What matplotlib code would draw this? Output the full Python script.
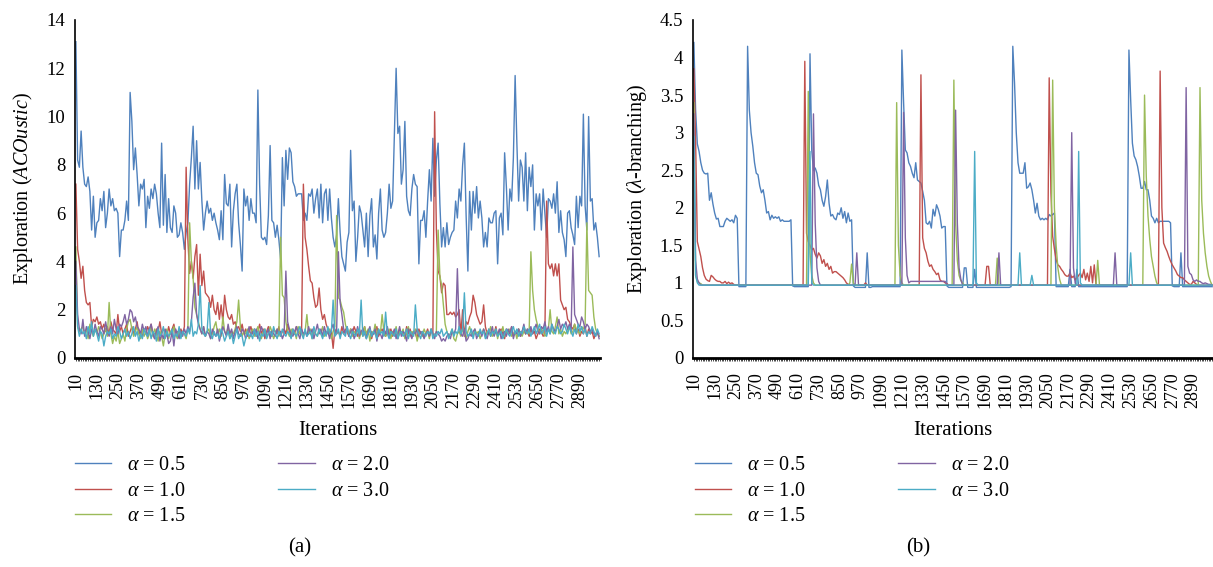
import matplotlib
matplotlib.use("Agg")
import matplotlib.pyplot as plt
from matplotlib.ticker import FuncFormatter
import numpy as np

plt.rcParams["font.family"] = "Liberation Serif"
plt.rcParams["mathtext.fontset"] = "custom"
plt.rcParams["mathtext.rm"] = "Liberation Serif"
plt.rcParams["mathtext.it"] = "Liberation Serif:italic"

# categories: iteration number, one point every 10 iterations
iterations = np.arange(10, 3010, 10)
series_labels = [r"$\alpha$ = 0.5", r"$\alpha$ = 1.0", r"$\alpha$ = 1.5",
                 r"$\alpha$ = 2.0", r"$\alpha$ = 3.0"]
colors = ["#4F81BD", "#C0504D", "#9BBB59", "#8064A2", "#4BACC6"]

# ---- panel (a): ACOustic ----
a_05 = [
    13.1, 8.2, 7.9, 9.4, 7.9, 7.2, 7.1, 7.5, 6.9, 5.3, 6.7, 5.0, 5.6, 5.7, 6.6, 6.1, 6.9, 5.4, 6.0, 7.0,
    6.3, 6.6, 6.1, 6.2, 6.0, 4.2, 5.3, 5.3, 5.7, 6.5, 5.7, 11.0, 9.8, 7.8, 8.7, 7.6, 6.3, 7.2, 7.0, 7.4,
    5.4, 6.7, 6.2, 7.0, 6.6, 7.2, 6.8, 6.0, 5.4, 8.9, 5.5, 7.6, 5.2, 6.6, 5.4, 5.2, 6.3, 6.0, 5.0, 5.1,
    5.6, 5.2, 4.5, 5.2, 5.6, 7.2, 8.3, 9.6, 7.0, 9.0, 7.0, 8.1, 6.5, 5.3, 6.0, 6.5, 6.0, 6.2, 5.7, 6.0,
    5.6, 5.3, 4.9, 6.1, 4.9, 7.6, 6.4, 6.3, 7.2, 4.6, 6.1, 6.8, 7.2, 5.6, 4.7, 3.6, 7.0, 6.3, 6.7, 5.7,
    6.6, 6.0, 6.0, 5.6, 11.1, 7.2, 5.0, 4.9, 5.0, 4.7, 5.9, 8.8, 5.7, 5.6, 5.0, 5.5, 4.9, 4.1, 8.3, 6.3,
    8.6, 7.4, 8.7, 8.5, 7.3, 7.1, 6.7, 6.8, 6.8, 6.8, 5.7, 6.0, 5.7, 6.8, 6.7, 7.0, 6.0, 6.6, 7.0, 5.8,
    7.2, 5.6, 6.8, 7.0, 5.7, 7.0, 5.8, 5.0, 4.6, 5.1, 6.6, 5.2, 4.2, 3.9, 3.6, 4.8, 5.2, 8.6, 6.1, 6.5,
    4.0, 5.0, 6.3, 6.0, 5.3, 4.6, 6.0, 4.2, 5.9, 6.6, 4.6, 5.1, 4.1, 6.0, 7.0, 5.3, 5.0, 5.2, 6.0, 7.2,
    6.2, 6.5, 9.3, 12.0, 9.3, 9.6, 7.2, 7.8, 9.8, 6.7, 6.1, 5.9, 7.0, 7.6, 7.2, 7.1, 3.9, 5.7, 5.7, 6.1,
    5.0, 6.5, 7.8, 6.5, 9.1, 6.7, 8.2, 8.9, 6.4, 4.6, 5.4, 4.6, 5.6, 4.7, 5.0, 5.2, 5.3, 6.5, 5.8, 7.0,
    6.5, 8.0, 8.9, 5.9, 3.6, 6.9, 5.3, 6.9, 6.0, 7.1, 5.8, 6.5, 5.8, 4.6, 5.2, 4.6, 5.8, 5.6, 5.6, 6.0,
    6.1, 3.9, 5.8, 6.0, 5.1, 8.5, 7.1, 5.3, 7.0, 6.5, 8.3, 11.7, 8.9, 6.5, 8.2, 7.9, 6.5, 8.5, 6.1, 7.9,
    7.1, 8.0, 5.3, 6.8, 6.3, 6.8, 5.3, 7.0, 6.0, 5.0, 6.6, 6.5, 6.2, 6.8, 6.0, 7.3, 5.2, 6.1, 5.2, 4.9,
    4.2, 6.0, 6.1, 5.4, 5.1, 4.7, 6.7, 5.4, 6.7, 6.3, 10.1, 6.3, 5.3, 10.0, 6.5, 6.6, 5.3, 5.6, 5.0, 4.2,
]
a_10 = [
    7.2, 4.5, 4.0, 3.3, 3.8, 2.8, 2.3, 2.2, 2.3, 1.3, 1.6, 1.5, 1.7, 1.4, 1.5, 1.2, 1.4, 1.1, 1.3, 1.0,
    1.5, 1.2, 1.1, 1.0, 1.8, 1.1, 1.3, 1.0, 1.2, 1.4, 0.9, 1.1, 1.3, 1.0, 1.2, 1.5, 1.0, 1.1, 0.9, 1.2,
    1.0, 1.3, 1.1, 1.4, 1.0, 0.8, 1.2, 1.1, 1.5, 1.0, 1.2, 1.1, 0.9, 1.3, 1.0, 1.2, 1.4, 1.0, 1.1, 0.9,
    1.2, 1.0, 1.3, 7.9, 4.9, 3.5, 4.0, 3.3, 4.2, 4.7, 2.6, 4.3, 3.0, 3.6, 2.7, 2.6, 2.5, 2.1, 2.6, 2.0,
    1.8, 2.3, 1.6, 2.2, 1.5, 2.6, 2.0, 1.7, 1.6, 1.8, 1.4, 1.5, 1.2, 1.3, 1.1, 1.4, 1.0, 1.2, 0.9, 1.1,
    1.3, 1.0, 1.2, 0.9, 1.1, 1.4, 1.0, 1.2, 0.8, 1.1, 1.3, 1.0, 0.9, 1.2, 1.1, 1.0, 1.3, 0.9, 1.1, 1.2,
    1.0, 1.4, 1.1, 0.9, 1.2, 1.0, 1.3, 1.1, 1.0, 1.2, 7.2, 5.0, 4.5, 3.8, 3.2, 3.1, 2.5, 2.1, 2.2, 2.9,
    2.0, 1.6, 1.8, 1.4, 1.2, 1.0, 1.1, 0.4, 1.2, 1.0, 1.1, 0.9, 1.3, 1.0, 1.2, 1.1, 0.9, 1.2, 1.0, 1.3,
    1.1, 0.9, 1.2, 1.0, 1.1, 1.3, 0.9, 1.0, 1.2, 0.8, 1.1, 1.0, 1.3, 0.9, 1.1, 1.2, 1.0, 0.9, 1.1, 1.0,
    1.2, 0.9, 1.1, 1.0, 0.8, 1.2, 1.0, 1.1, 0.9, 1.3, 1.0, 1.2, 0.9, 1.1, 1.0, 0.8, 1.2, 1.0, 1.1, 0.9,
    1.0, 1.2, 0.9, 1.1, 1.0, 10.2, 5.3, 3.6, 3.4, 2.7, 3.1, 3.0, 1.8, 1.8, 1.9, 1.8, 1.9, 1.7, 1.8, 2.0,
    1.0, 2.0, 0.9, 1.5, 1.4, 1.7, 1.9, 2.6, 2.3, 1.8, 1.6, 1.4, 1.5, 2.2, 1.3, 1.0, 1.2, 0.9, 1.1, 1.0,
    1.3, 0.9, 1.1, 1.2, 1.0, 0.8, 1.2, 1.1, 1.0, 1.3, 0.9, 1.1, 1.0, 1.2, 0.9, 1.1, 1.3, 1.0, 1.1, 0.9,
    1.2, 1.0, 1.1, 0.8, 1.0, 1.2, 1.1, 0.9, 1.0, 6.5, 3.9, 3.7, 3.9, 3.4, 3.9, 3.4, 3.9, 2.4, 2.2, 2.0,
    2.1, 1.6, 1.5, 1.3, 1.2, 1.4, 1.0, 1.2, 0.9, 1.1, 1.0, 1.3, 0.9, 1.2, 1.0, 1.1, 0.8, 1.0, 1.1, 0.9,
]
a_15 = [
    4.6, 1.3, 1.1, 1.2, 1.3, 1.0, 1.2, 0.8, 1.4, 1.1, 0.9, 1.2, 1.0, 1.3, 1.1, 0.8, 1.0, 1.2, 0.9, 2.3,
    1.0, 0.6, 0.9, 0.7, 1.1, 0.6, 0.8, 1.0, 0.7, 1.2, 1.5, 1.6, 1.2, 0.9, 1.1, 1.3, 1.0, 0.8, 1.2, 0.9,
    1.1, 0.8, 1.0, 1.3, 0.9, 1.2, 1.0, 0.7, 1.1, 0.9, 0.5, 1.0, 1.2, 0.8, 1.1, 0.9, 1.3, 1.0, 0.8, 1.2,
    0.9, 1.1, 1.0, 0.8, 1.2, 5.6, 4.0, 3.3, 2.1, 1.8, 1.5, 1.2, 1.0, 1.3, 0.9, 1.1, 1.2, 0.8, 1.0, 1.3,
    1.5, 1.0, 1.2, 0.9, 1.7, 1.1, 1.0, 1.3, 0.8, 1.1, 1.0, 1.2, 1.5, 2.4, 1.3, 0.9, 1.1, 1.0, 1.2, 0.8,
    1.0, 1.2, 0.9, 1.1, 1.3, 1.0, 0.8, 1.1, 1.2, 0.9, 1.0, 1.3, 1.1, 0.8, 1.0, 1.2, 0.9, 5.0, 2.6, 2.5,
    1.5, 1.1, 0.9, 1.2, 1.0, 1.1, 0.8, 1.3, 1.0, 1.2, 0.9, 1.1, 1.8, 1.0, 1.2, 0.8, 1.1, 1.0, 0.9, 1.2,
    1.0, 1.3, 0.9, 1.1, 1.0, 1.2, 0.8, 1.1, 1.3, 5.9, 2.5, 2.4, 2.1, 1.9, 1.4, 1.1, 1.0, 1.2, 0.9, 1.1,
    1.0, 1.2, 0.8, 1.1, 0.9, 1.3, 1.0, 1.2, 0.7, 1.1, 1.0, 1.4, 0.9, 1.2, 1.0, 1.8, 1.1, 0.9, 1.0, 1.2,
    0.8, 1.1, 1.0, 1.3, 0.9, 1.1, 1.0, 1.2, 0.8, 1.0, 1.3, 0.9, 1.1, 1.0, 1.2, 0.7, 1.0, 1.1, 0.9, 1.2,
    1.0, 1.1, 0.8, 1.2, 1.0, 0.9, 1.1, 5.3, 3.4, 3.0, 2.2, 1.4, 1.1, 0.9, 1.0, 1.2, 0.8, 0.7, 1.0, 1.1,
    0.9, 1.2, 1.0, 0.8, 1.1, 1.3, 1.0, 0.9, 1.2, 1.0, 1.1, 0.8, 1.0, 1.2, 0.9, 1.1, 1.0, 1.3, 0.9, 1.0,
    1.2, 0.8, 1.1, 1.0, 1.3, 0.9, 1.1, 1.0, 1.2, 0.9, 1.0, 1.1, 0.8, 1.2, 1.0, 0.9, 1.1, 1.0, 1.2, 1.0,
    4.4, 2.8, 2.0, 1.6, 1.3, 1.0, 1.2, 1.1, 0.9, 1.0, 1.2, 2.0, 1.1, 1.0, 1.3, 1.7, 1.0, 1.2, 0.9, 1.1,
    1.0, 1.2, 1.3, 1.0, 1.1, 1.4, 1.2, 1.1, 1.0, 1.3, 1.2, 1.4, 5.6, 2.8, 2.7, 2.6, 1.7, 1.2, 1.0, 0.9,
]
a_20 = [
    4.0, 1.8, 1.2, 1.0, 1.6, 0.9, 1.3, 1.1, 0.8, 1.2, 1.0, 1.4, 1.1, 0.9, 1.3, 1.2, 1.0, 1.5, 1.1, 0.9,
    1.3, 1.0, 1.6, 1.2, 1.0, 1.4, 1.3, 1.5, 1.8, 1.4, 1.6, 2.0, 1.9, 1.5, 1.7, 1.3, 1.2, 1.0, 1.4, 1.1,
    1.3, 0.9, 1.2, 1.4, 1.0, 0.8, 1.1, 1.3, 0.7, 1.0, 0.8, 1.2, 1.0, 0.6, 0.7, 1.1, 0.5, 1.2, 1.0, 0.8,
    1.1, 0.9, 1.2, 1.0, 1.3, 1.1, 1.5, 2.5, 3.1, 1.8, 1.4, 1.2, 1.0, 1.3, 0.9, 1.1, 1.0, 0.8, 1.2, 1.0,
    0.9, 1.2, 0.7, 1.0, 1.3, 1.1, 0.9, 1.4, 1.0, 1.2, 0.8, 1.1, 1.3, 1.0, 0.9, 1.2, 1.1, 0.8, 1.0, 1.3,
    0.9, 1.1, 1.0, 1.2, 0.8, 1.0, 1.3, 1.1, 0.9, 1.0, 1.2, 0.8, 1.1, 1.0, 0.9, 1.2, 1.0, 1.1, 0.8, 1.0,
    3.6, 1.5, 1.2, 1.0, 0.9, 1.1, 1.3, 1.0, 0.8, 1.2, 1.0, 1.1, 0.9, 1.3, 1.0, 1.2, 0.8, 1.1, 1.4, 1.0,
    1.2, 0.9, 1.3, 1.0, 1.1, 0.8, 1.2, 1.4, 1.0, 1.1, 4.4, 2.3, 1.8, 1.2, 1.0, 1.3, 0.9, 1.1, 1.2, 0.8,
    1.0, 1.3, 0.9, 1.1, 1.2, 1.0, 0.8, 1.1, 1.3, 0.9, 1.0, 1.2, 0.7, 1.1, 1.0, 0.8, 1.2, 1.0, 1.3, 0.9,
    1.1, 1.0, 1.2, 0.8, 1.0, 1.3, 0.9, 1.1, 1.0, 0.7, 1.2, 1.0, 0.8, 1.1, 1.0, 1.2, 0.9, 1.1, 1.0, 0.8,
    1.0, 1.1, 0.9, 1.2, 1.0, 0.8, 1.1, 1.0, 0.9, 0.7, 0.8, 0.7, 0.9, 1.0, 0.8, 1.1, 1.0, 1.2, 3.7, 1.3,
    1.0, 0.9, 1.2, 0.7, 0.8, 1.0, 0.9, 1.1, 1.2, 0.8, 1.0, 1.1, 0.9, 1.2, 1.0, 0.8, 1.1, 1.0, 1.3, 0.9,
    1.1, 1.0, 1.2, 0.8, 1.0, 1.1, 0.9, 1.2, 1.0, 1.3, 0.8, 1.1, 1.0, 1.2, 0.9, 1.1, 1.4, 1.0, 1.2, 1.1,
    1.3, 1.0, 1.2, 1.4, 1.1, 1.0, 1.3, 1.2, 1.5, 1.1, 1.3, 1.0, 1.4, 1.2, 1.1, 1.3, 1.6, 1.2, 1.4, 1.3,
    1.5, 1.2, 1.4, 1.1, 4.6, 1.8, 1.6, 1.4, 1.3, 1.7, 1.5, 1.2, 1.4, 1.3, 1.1, 1.2, 1.0, 0.9, 1.1, 0.8,
]
a_30 = [
    3.0, 1.3, 0.9, 1.2, 1.0, 1.1, 0.8, 1.3, 1.0, 1.5, 0.9, 1.2, 1.0, 0.7, 1.1, 1.0, 0.5, 0.9, 1.1, 1.0,
    1.2, 0.8, 1.0, 0.9, 1.3, 1.1, 0.8, 1.0, 1.2, 0.9, 1.1, 0.8, 1.0, 1.3, 0.9, 1.1, 0.7, 1.0, 0.8, 1.2,
    1.0, 0.9, 1.2, 0.8, 1.1, 1.0, 0.7, 1.2, 0.9, 1.0, 1.3, 0.8, 1.1, 0.9, 1.0, 1.2, 0.8, 1.0, 0.9, 1.3,
    0.8, 1.1, 1.0, 0.9, 1.2, 1.0, 1.6, 0.9, 1.1, 1.0, 1.4, 3.0, 1.2, 1.0, 0.9, 1.1, 2.3, 1.0, 0.8, 1.1,
    0.9, 1.0, 0.8, 1.2, 1.0, 0.7, 0.9, 1.1, 0.8, 1.0, 0.6, 0.9, 1.2, 0.8, 1.0, 0.9, 0.5, 0.8, 1.1, 0.9,
    1.0, 0.8, 1.2, 0.9, 1.1, 0.7, 1.0, 0.9, 1.2, 0.8, 1.0, 1.1, 0.9, 1.3, 1.0, 0.8, 1.1, 0.9, 1.2, 1.0,
    0.9, 1.1, 1.0, 0.8, 1.2, 1.0, 0.9, 1.1, 1.3, 1.0, 0.8, 1.2, 0.9, 1.0, 1.1, 0.8, 1.3, 1.0, 0.9, 1.2,
    1.0, 0.8, 1.1, 0.9, 1.3, 1.0, 1.1, 2.4, 0.9, 1.0, 1.2, 0.8, 1.1, 1.0, 0.9, 1.3, 1.0, 0.8, 1.1, 1.0,
    0.9, 1.2, 1.0, 2.4, 0.9, 1.1, 0.8, 1.0, 1.2, 0.9, 1.1, 1.0, 0.8, 1.2, 1.0, 1.1, 0.9, 1.9, 1.0, 0.8,
    1.1, 1.0, 0.9, 1.2, 0.8, 1.0, 1.1, 0.9, 1.0, 1.2, 0.8, 1.1, 1.0, 0.9, 2.2, 1.2, 1.0, 0.8, 1.1, 1.0,
    0.9, 1.1, 1.0, 1.2, 0.8, 1.0, 0.9, 1.1, 1.0, 1.2, 0.9, 1.0, 1.1, 0.8, 1.0, 1.2, 0.9, 1.1, 1.0, 1.3,
    1.0, 1.2, 2.7, 1.1, 0.9, 1.0, 1.2, 0.8, 1.1, 1.0, 0.9, 1.2, 1.0, 1.1, 0.8, 1.0, 1.2, 0.9, 1.1, 1.0,
    1.2, 0.9, 1.0, 1.1, 0.8, 1.0, 1.2, 1.0, 0.9, 1.1, 1.3, 1.0, 1.2, 0.9, 1.1, 1.0, 1.3, 1.1, 1.0, 1.2,
    0.9, 1.1, 1.3, 1.0, 1.2, 1.4, 1.0, 1.1, 1.3, 0.9, 1.2, 1.0, 1.4, 1.1, 1.0, 1.3, 1.2, 1.0, 1.1, 1.4,
    1.2, 1.0, 1.3, 1.1, 0.9, 1.2, 1.0, 1.4, 1.1, 1.3, 1.0, 1.2, 0.9, 1.1, 1.0, 1.3, 1.1, 0.9, 1.2, 1.0,
]

# ---- panel (b): lambda-branching ----
b_05 = [
    4.2, 3.3, 2.85, 2.75, 2.6, 2.5, 2.46, 2.45, 2.46, 2.1, 2.2, 2.05, 1.93, 1.85, 1.86, 1.75, 1.75, 1.75, 1.82, 1.86,
    1.84, 1.82, 1.84, 1.8, 1.9, 1.86, 0.95, 0.95, 0.95, 0.95, 0.95, 4.15, 3.3, 3.0, 2.82, 2.6, 2.46, 2.44, 2.29, 2.2,
    2.24, 2.1, 1.93, 1.95, 1.84, 1.9, 1.86, 1.88, 1.86, 1.88, 1.82, 1.84, 1.82, 1.82, 1.82, 1.82, 1.84, 0.96, 0.95, 0.95,
    0.95, 0.95, 0.95, 0.95, 0.95, 0.95, 0.95, 4.05, 2.77, 2.5, 2.53, 2.46, 2.3, 2.24, 2.1, 2.02, 2.15, 2.37, 2.06, 1.89,
    1.91, 1.86, 1.84, 1.93, 1.91, 2.0, 1.86, 1.95, 1.8, 1.93, 1.82, 1.84, 0.96, 0.94, 0.94, 0.94, 0.94, 0.94, 0.94, 0.94,
    1.4, 0.94, 0.94, 0.95, 0.95, 0.95, 0.95, 0.95, 0.95, 0.95, 0.95, 0.95, 0.95, 0.95, 0.95, 0.95, 0.95, 0.95, 0.95, 0.95,
    4.1, 3.4, 2.77, 2.73, 2.6, 2.55, 2.46, 2.4, 2.6, 2.37, 2.35, 2.33, 2.22, 2.1, 1.8, 1.78, 1.82, 1.73, 1.98, 1.89,
    2.04, 1.98, 1.89, 1.73, 1.75, 1.75, 0.96, 0.94, 0.94, 0.94, 0.94, 0.94, 0.94, 0.94, 0.94, 0.94, 1.2, 1.2, 0.94, 0.94,
    0.94, 0.94, 1.18, 0.94, 0.94, 0.94, 0.94, 0.94, 0.94, 0.94, 0.94, 0.94, 0.94, 0.94, 0.94, 0.94, 0.94, 0.94, 0.94, 0.94,
    0.94, 0.94, 0.94, 0.95, 4.15, 3.66, 3.0, 2.6, 2.46, 2.46, 2.46, 2.6, 2.26, 2.28, 2.33, 2.24, 2.1, 1.93, 2.06, 1.89,
    1.84, 1.86, 1.84, 1.86, 1.84, 1.91, 1.89, 1.91, 1.93, 0.95, 0.95, 0.95, 0.95, 0.95, 0.95, 0.95, 0.95, 1.18, 0.95, 0.95,
    0.95, 1.18, 0.95, 0.95, 0.95, 0.95, 0.95, 0.95, 0.95, 0.95, 0.95, 0.95, 0.95, 0.95, 0.95, 0.95, 0.95, 0.95, 0.95, 0.95,
    0.95, 0.95, 0.95, 0.95, 0.95, 0.95, 0.95, 0.95, 0.95, 0.95, 0.95, 4.1, 3.44, 2.86, 2.69, 2.64, 2.55, 2.42, 2.26, 2.26,
    2.35, 2.24, 2.24, 2.1, 1.89, 1.86, 1.8, 1.86, 1.8, 1.82, 1.82, 1.82, 1.82, 1.82, 1.82, 1.8, 0.96, 0.95, 0.95, 0.95,
    0.95, 1.4, 0.95, 0.95, 0.95, 0.95, 0.95, 0.95, 0.95, 0.95, 0.95, 0.95, 0.95, 0.95, 0.95, 0.95, 0.95, 0.95, 0.95, 0.95,
]
b_10 = [
    3.85, 2.9, 1.55, 1.45, 1.35, 1.2, 1.1, 1.05, 1.03, 1.02, 1.1, 1.08, 1.05, 1.03, 1.02, 1.02, 1.0, 1.0, 1.02, 0.99,
    1.01, 0.99, 1.0, 0.98, 0.97, 0.97, 0.97, 0.97, 0.97, 0.97, 0.97, 0.97, 0.97, 0.97, 0.97, 0.97, 0.97, 0.97, 0.97, 0.97,
    0.97, 0.97, 0.97, 0.97, 0.97, 0.97, 0.97, 0.97, 0.97, 0.97, 0.97, 0.97, 0.97, 0.97, 0.97, 0.97, 0.97, 0.97, 0.97, 0.97,
    0.97, 0.97, 0.97, 0.97, 3.95, 1.66, 1.55, 1.5, 1.44, 1.46, 1.38, 1.33, 1.4, 1.36, 1.26, 1.31, 1.22, 1.26, 1.18, 1.22,
    1.13, 1.15, 1.15, 1.13, 1.11, 1.09, 1.07, 1.04, 1.0, 0.98, 0.97, 0.97, 0.97, 0.97, 0.97, 0.97, 0.97, 0.97, 0.97, 1.0,
    0.97, 0.97, 0.97, 0.97, 0.97, 0.97, 0.97, 0.97, 0.97, 0.97, 0.97, 0.97, 0.97, 0.97, 0.97, 0.97, 0.97, 0.97, 0.97, 0.97,
    0.97, 0.97, 0.97, 0.97, 0.97, 0.97, 0.97, 0.97, 0.97, 0.97, 0.97, 3.77, 1.6, 1.46, 1.4, 1.29, 1.22, 1.24, 1.18, 1.15,
    1.11, 1.13, 1.04, 1.02, 1.02, 1.0, 0.99, 0.97, 0.97, 0.97, 0.97, 0.97, 0.97, 0.97, 0.97, 0.97, 0.97, 0.97, 0.97, 0.97,
    0.97, 0.97, 0.97, 0.97, 0.97, 0.97, 0.97, 0.97, 0.97, 1.22, 1.22, 0.97, 0.97, 0.97, 0.97, 0.97, 0.97, 0.97, 0.97, 0.97,
    0.97, 0.97, 0.97, 0.97, 0.97, 0.97, 0.97, 0.97, 0.97, 0.97, 0.97, 0.97, 0.97, 0.97, 0.97, 0.97, 0.97, 0.97, 0.97, 0.97,
    0.97, 0.97, 0.97, 0.97, 0.97, 3.73, 2.2, 1.62, 1.45, 1.31, 1.24, 1.22, 1.18, 1.15, 1.11, 1.09, 1.09, 1.13, 1.07, 1.09,
    1.04, 1.07, 1.1, 1.13, 1.07, 1.18, 1.04, 1.13, 1.02, 1.22, 1.0, 1.24, 0.98, 0.97, 0.97, 0.97, 0.97, 0.97, 0.97, 0.97,
    0.97, 0.97, 0.97, 0.97, 0.97, 0.97, 0.97, 0.97, 0.97, 0.97, 0.97, 0.97, 0.97, 0.97, 0.97, 0.97, 0.97, 0.97, 0.97, 0.97,
    0.97, 0.97, 0.97, 0.97, 0.97, 0.97, 0.97, 0.97, 0.97, 3.82, 2.0, 1.53, 1.47, 1.42, 1.35, 1.29, 1.24, 1.2, 1.16, 1.11,
    1.09, 1.07, 1.07, 1.04, 1.02, 1.0, 0.98, 0.98, 1.02, 1.0, 0.98, 0.97, 0.97, 0.97, 0.97, 0.97, 0.97, 0.97, 0.97, 0.97,
]
b_15 = [
    3.4, 1.1, 1.02, 1.0, 0.99, 0.97, 0.97, 0.97, 0.97, 0.97, 0.97, 0.97, 0.97, 0.97, 0.97, 0.97, 0.97, 0.97, 0.97, 0.97,
    0.97, 0.97, 0.97, 0.97, 0.97, 0.97, 0.97, 0.97, 0.97, 0.97, 0.97, 0.97, 0.97, 0.97, 0.97, 0.97, 0.97, 0.97, 0.97, 0.97,
    0.97, 0.97, 0.97, 0.97, 0.97, 0.97, 0.97, 0.97, 0.97, 0.97, 0.97, 0.97, 0.97, 0.97, 0.97, 0.97, 0.97, 0.97, 0.97, 0.97,
    0.97, 0.97, 0.97, 0.97, 0.97, 0.97, 3.55, 1.4, 1.1, 1.0, 0.97, 0.97, 0.97, 0.97, 0.97, 0.97, 0.97, 0.97, 0.97, 0.97,
    0.97, 0.97, 0.97, 0.97, 0.97, 0.97, 0.97, 0.97, 0.97, 0.97, 1.0, 1.25, 1.0, 0.97, 0.97, 0.97, 0.97, 0.97, 0.97, 0.97,
    0.97, 0.97, 0.97, 0.97, 0.97, 0.97, 0.97, 0.97, 0.97, 0.97, 0.97, 0.97, 0.97, 0.97, 0.97, 0.97, 0.97, 3.4, 1.5, 1.1,
    1.0, 0.97, 0.97, 0.97, 0.97, 0.97, 0.97, 0.97, 0.97, 0.97, 0.97, 0.97, 0.97, 0.97, 0.97, 0.97, 0.97, 0.97, 0.97, 0.97,
    0.97, 0.97, 0.97, 0.97, 0.97, 0.97, 0.97, 0.97, 0.97, 0.97, 3.7, 1.8, 1.3, 1.1, 1.03, 1.0, 0.97, 0.97, 0.97, 0.97,
    0.97, 0.97, 0.97, 0.97, 0.97, 0.97, 0.97, 0.97, 0.97, 0.97, 0.97, 0.97, 0.97, 0.97, 0.97, 1.33, 0.97, 0.97, 0.97, 0.97,
    0.97, 0.97, 0.97, 0.97, 0.97, 0.97, 0.97, 0.97, 0.97, 0.97, 0.97, 0.97, 0.97, 0.97, 0.97, 0.97, 0.97, 0.97, 0.97, 0.97,
    0.97, 0.97, 0.97, 0.97, 0.97, 0.97, 0.97, 3.7, 2.0, 1.5, 1.2, 1.05, 0.97, 0.97, 0.97, 0.97, 0.97, 0.97, 0.97, 0.97,
    0.97, 0.97, 0.97, 0.97, 0.97, 0.97, 0.97, 0.97, 0.97, 0.97, 0.97, 0.97, 0.97, 1.3, 0.97, 0.97, 0.97, 0.97, 0.97, 0.97,
    0.97, 0.97, 0.97, 0.97, 0.97, 0.97, 0.97, 0.97, 0.97, 0.97, 0.97, 0.97, 0.97, 0.97, 0.97, 0.97, 0.97, 0.97, 0.97, 0.97,
    3.5, 2.42, 1.89, 1.58, 1.35, 1.22, 1.09, 1.0, 0.97, 0.97, 0.97, 0.97, 0.97, 0.97, 0.97, 0.97, 0.97, 0.97, 0.97, 0.97,
    0.97, 0.97, 0.97, 0.97, 0.97, 0.97, 0.97, 0.97, 0.97, 0.97, 0.97, 0.97, 3.6, 2.1, 1.66, 1.4, 1.22, 1.09, 1.02, 0.97,
]
b_20 = [
    3.25, 1.3, 1.05, 1.0, 0.97, 0.97, 0.97, 0.97, 0.97, 0.97, 0.97, 0.97, 0.97, 0.97, 0.97, 0.97, 0.97, 0.97, 0.97, 0.97,
    0.97, 0.97, 0.97, 0.97, 0.97, 0.97, 0.97, 0.97, 0.97, 0.97, 0.97, 0.97, 0.97, 0.97, 0.97, 0.97, 0.97, 0.97, 0.97, 0.97,
    0.97, 0.97, 0.97, 0.97, 0.97, 0.97, 0.97, 0.97, 0.97, 0.97, 0.97, 0.97, 0.97, 0.97, 0.97, 0.97, 0.97, 0.97, 0.97, 0.97,
    0.97, 0.97, 0.97, 0.97, 0.97, 0.97, 0.97, 0.97, 0.97, 3.25, 1.8, 1.2, 1.02, 0.97, 0.97, 0.97, 0.97, 0.97, 0.97, 0.97,
    0.97, 0.97, 0.97, 0.97, 0.97, 0.97, 0.97, 0.97, 0.97, 0.97, 0.97, 0.97, 0.97, 0.97, 1.4, 0.97, 0.97, 0.97, 0.97, 0.97,
    0.97, 0.97, 0.97, 0.97, 0.97, 0.97, 0.97, 0.97, 0.97, 0.97, 0.97, 0.97, 0.97, 0.97, 0.97, 0.97, 0.97, 0.97, 0.97, 0.97,
    0.97, 3.27, 1.6, 1.1, 1.0, 1.02, 1.02, 1.02, 1.02, 1.02, 1.02, 1.02, 1.02, 1.02, 1.02, 1.02, 1.02, 1.02, 1.02, 1.02,
    1.02, 1.02, 1.02, 1.02, 1.02, 1.02, 0.97, 0.97, 0.97, 0.97, 0.97, 3.3, 1.8, 1.2, 1.05, 0.97, 0.97, 0.97, 0.97, 0.97,
    0.97, 0.97, 0.97, 0.97, 0.97, 0.97, 0.97, 0.97, 0.97, 0.97, 0.97, 0.97, 0.97, 0.97, 0.97, 0.97, 1.4, 0.97, 0.97, 0.97,
    0.97, 0.97, 0.97, 0.97, 0.97, 0.97, 0.97, 0.97, 0.97, 0.97, 0.97, 0.97, 0.97, 0.97, 0.97, 0.97, 0.97, 0.97, 0.97, 0.97,
    0.97, 0.97, 0.97, 0.97, 0.97, 0.97, 0.97, 0.97, 0.97, 0.97, 0.97, 0.97, 0.97, 0.97, 0.97, 0.97, 0.97, 0.97, 3.0, 1.2,
    1.0, 0.97, 0.97, 0.97, 0.97, 0.97, 0.97, 0.97, 0.97, 0.97, 0.97, 0.97, 0.97, 0.97, 0.97, 0.97, 0.97, 0.97, 0.97, 0.97,
    0.97, 0.97, 0.97, 1.4, 0.97, 0.97, 0.97, 0.97, 0.97, 0.97, 0.97, 0.97, 0.97, 0.97, 0.97, 0.97, 0.97, 0.97, 0.97, 0.97,
    0.97, 0.97, 0.97, 0.97, 0.97, 0.97, 0.97, 0.97, 0.97, 0.97, 0.97, 0.97, 0.97, 0.97, 0.97, 0.97, 0.97, 0.97, 0.97, 0.97,
    0.97, 0.97, 0.97, 0.97, 3.6, 1.22, 1.13, 1.11, 1.04, 1.02, 1.04, 1.02, 1.02, 1.0, 0.99, 1.0, 0.99, 0.98, 0.98, 0.97,
]
b_30 = [
    2.95, 1.1, 1.0, 0.97, 0.97, 0.97, 0.97, 0.97, 0.97, 0.97, 0.97, 0.97, 0.97, 0.97, 0.97, 0.97, 0.97, 0.97, 0.97, 0.97,
    0.97, 0.97, 0.97, 0.97, 0.97, 0.97, 0.97, 0.97, 0.97, 0.97, 0.97, 0.97, 0.97, 0.97, 0.97, 0.97, 0.97, 0.97, 0.97, 0.97,
    0.97, 0.97, 0.97, 0.97, 0.97, 0.97, 0.97, 0.97, 0.97, 0.97, 0.97, 0.97, 0.97, 0.97, 0.97, 0.97, 0.97, 0.97, 0.97, 0.97,
    0.97, 0.97, 0.97, 0.97, 0.97, 0.97, 0.97, 2.75, 1.0, 0.97, 0.97, 0.97, 0.97, 0.97, 0.97, 0.97, 0.97, 0.97, 0.97, 0.97,
    0.97, 0.97, 0.97, 0.97, 0.97, 0.97, 0.97, 0.97, 0.97, 0.97, 0.97, 0.97, 0.97, 0.97, 0.97, 0.97, 0.97, 0.97, 0.97, 0.97,
    0.97, 0.97, 0.97, 0.97, 0.97, 0.97, 0.97, 0.97, 0.97, 0.97, 0.97, 0.97, 0.97, 0.97, 0.97, 0.97, 0.97, 0.97, 0.97, 0.97,
    0.97, 0.97, 0.97, 0.97, 0.97, 0.97, 0.97, 0.97, 0.97, 0.97, 0.97, 0.97, 0.97, 0.97, 0.97, 0.97, 0.97, 0.97, 0.97, 0.97,
    0.97, 0.97, 0.97, 0.97, 0.97, 0.97, 0.97, 0.97, 0.97, 0.97, 0.97, 0.97, 0.97, 0.97, 0.97, 0.97, 0.97, 0.97, 0.97, 0.97,
    0.97, 0.97, 2.75, 1.0, 0.97, 0.97, 0.97, 0.97, 0.97, 0.97, 0.97, 0.97, 0.97, 0.97, 0.97, 0.97, 0.97, 0.97, 0.97, 0.97,
    0.97, 0.97, 0.97, 0.97, 0.97, 0.97, 0.97, 0.97, 1.4, 0.97, 0.97, 0.97, 0.97, 0.97, 0.97, 1.1, 0.97, 0.97, 0.97, 0.97,
    0.97, 0.97, 0.97, 0.97, 0.97, 0.97, 0.97, 0.97, 0.97, 0.97, 0.97, 0.97, 0.97, 0.97, 0.97, 0.97, 0.97, 0.97, 0.97, 0.97,
    0.97, 0.97, 2.75, 1.0, 0.97, 0.97, 0.97, 0.97, 0.97, 0.97, 0.97, 0.97, 0.97, 0.97, 0.97, 0.97, 0.97, 0.97, 0.97, 0.97,
    0.97, 0.97, 0.97, 0.97, 0.97, 0.97, 0.97, 0.97, 0.97, 0.97, 0.97, 0.97, 1.4, 0.97, 0.97, 0.97, 0.97, 0.97, 0.97, 0.97,
    0.97, 0.97, 0.97, 0.97, 0.97, 0.97, 0.97, 0.97, 0.97, 0.97, 0.97, 0.97, 0.97, 0.97, 0.97, 0.97, 0.97, 0.97, 0.97, 0.97,
    0.97, 0.97, 0.97, 0.97, 0.97, 0.97, 0.97, 0.97, 0.97, 0.97, 0.97, 0.97, 0.97, 0.97, 0.97, 0.97, 0.97, 0.97, 0.97, 0.97,
]

panel_a = [a_05, a_10, a_15, a_20, a_30]
panel_b = [b_05, b_10, b_15, b_20, b_30]

W, H = 1213, 567
fig = plt.figure(figsize=(W / 100, H / 100), dpi=100)
ax_a = fig.add_axes([75 / W, (H - 358) / H, 525 / W, 338 / H])
ax_b = fig.add_axes([693 / W, (H - 358) / H, 520 / W, 338 / H])


def style(ax, ymax, step, ylabel):
    for s in ("top", "right"):
        ax.spines[s].set_visible(False)
    ax.spines["left"].set_linewidth(1.2)
    ax.spines["bottom"].set_linewidth(2.0)
    ax.set_xlim(5, 3005)
    ax.set_ylim(0, ymax)
    ax.set_yticks(np.arange(0, ymax + step / 2, step))
    ax.yaxis.set_major_formatter(FuncFormatter(lambda v, p: f"{v:g}"))
    ticks = iterations[::12]
    ax.set_xticks(ticks)
    ax.set_xticklabels([str(t) for t in ticks], rotation=90)
    ax.set_xticks(iterations, minor=True)
    ax.tick_params(axis="x", which="both", length=2, width=0.5, pad=8, labelsize=13)
    ax.tick_params(axis="y", length=0, pad=7, labelsize=13.5)
    ax.set_xlabel("Iterations", fontsize=15, labelpad=9)
    ax.set_ylabel(ylabel, fontsize=14.5, labelpad=8)


for ax, data in ((ax_a, panel_a), (ax_b, panel_b)):
    for vals, c, lab in zip(data, colors, series_labels):
        ax.plot(iterations[:len(vals)], vals, color=c, lw=1.0, label=lab)

style(ax_a, 14, 2, r"Exploration ($ACOustic$)")
style(ax_b, 4.5, 0.5, r"Exploration ($\lambda$-branching)")

for ax, x0 in ((ax_a, 61), (ax_b, 681)):
    handles, labels = ax.get_legend_handles_labels()
    fig.legend(handles, labels, ncol=2, frameon=False, loc="upper left",
               bbox_to_anchor=(x0 / W, 1 - 442 / H), fontsize=14.5,
               handlelength=1.8, handletextpad=0.8, columnspacing=4.6,
               labelspacing=0.32, borderpad=0.2)

fig.text(300 / W, 1 - 548 / H, "(a)", ha="center", va="center", fontsize=15)
fig.text(918 / W, 1 - 548 / H, "(b)", ha="center", va="center", fontsize=15)

fig.savefig("out.png", dpi=100)
